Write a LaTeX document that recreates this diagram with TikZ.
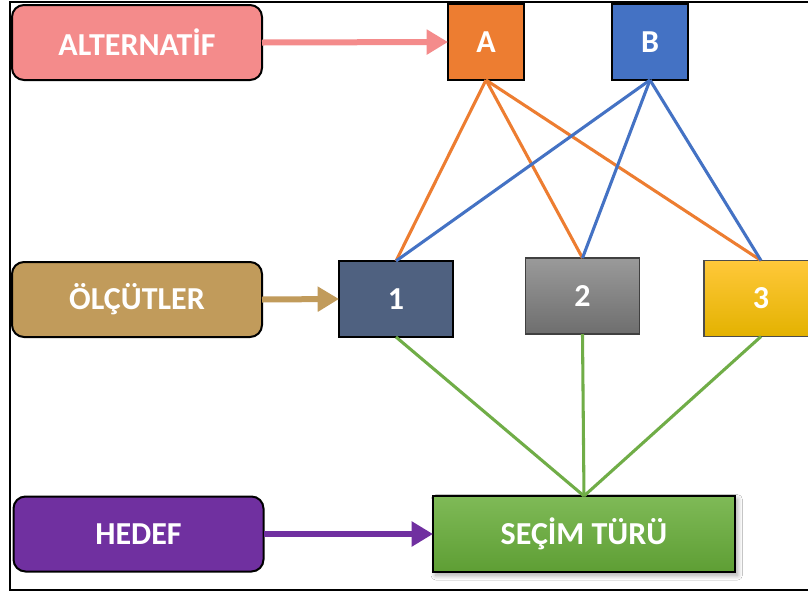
\documentclass[tikz,border=0pt]{standalone}
\usepackage{fontspec}
\setmainfont{Carlito}
\usetikzlibrary{arrows.meta,shadows.blur}

\definecolor{altpink}{HTML}{F48B8B}
\definecolor{olctan}{HTML}{C19B5B}
\definecolor{hedefpurple}{HTML}{7030A0}
\definecolor{aorange}{HTML}{ED7D31}
\definecolor{bblue}{HTML}{4472C4}
\definecolor{slate}{HTML}{4F6180}
\definecolor{greenline}{HTML}{70AD47}
\definecolor{greentop}{HTML}{7FBA57}
\definecolor{greenbot}{HTML}{5E9E34}
\definecolor{goldtop}{HTML}{FFC83A}
\definecolor{goldmid}{HTML}{FFC000}
\definecolor{goldbot}{HTML}{E3B200}
\definecolor{graytop}{HTML}{9A9A9A}
\definecolor{graybot}{HTML}{6E6E6E}

\tikzset{
  lbl/.style={font=\fontsize{24}{28}\selectfont\bfseries, text=white, inner sep=0pt, outer sep=0pt},
  roundbox/.style={lbl, draw=black, line width=1.5pt, rounded corners=9pt,
    minimum width=187.5pt, minimum height=56.25pt},
  sqbox/.style={lbl, draw=black, line width=1.5pt, minimum width=57pt, minimum height=57pt},
  critbox/.style={lbl, line width=1.5pt, minimum width=85.5pt, minimum height=57pt},
  bigarrow/.style={line width=4.5pt, -{Triangle[length=16pt,width=18pt]}},
  link/.style={line width=2.3pt},
}

\begin{document}
\begin{tikzpicture}[x=0.75pt,y=-0.75pt]
\useasboundingbox (0,0) rectangle (808,594);
\clip (0,0) rectangle (808,594);
\fill[white] (0,0) rectangle (808,594);

% outer frame
\draw[line width=1.5pt] (10,2) rectangle (840,590);

% level labels
\node[roundbox, fill=altpink]     (alt)   at (137,42.5)  {ALTERNATİF};
\node[roundbox, fill=olctan]      (olc)   at (137,299.5) {ÖLÇÜTLER};
\node[roundbox, fill=hedefpurple] (hedef) at (138.5,534) {HEDEF};

% alternatives
\node[sqbox, fill=aorange] (A) at (486,42) {A};
\node[sqbox, fill=bblue]   (B) at (650,42) {B};

% criteria
\node[critbox, draw=black, fill=slate] (c1) at (396,299) {1};
\node[critbox, draw=black!75, line width=1pt, top color=graytop, bottom color=graybot] (c2) at (582.5,296) {2};
\node[critbox, draw=black!70, line width=1pt, top color=goldtop, middle color=goldmid, bottom color=goldbot] (c3) at (761,298.5) {3};

% goal
\node[lbl, draw=black, line width=1.5pt, minimum width=226.5pt, minimum height=57pt,
  top color=greentop, bottom color=greenbot,
  blur shadow={shadow xshift=2pt, shadow yshift=-2.5pt, shadow blur steps=12, shadow blur radius=3.5pt, shadow opacity=35}]
  (sec) at (584,534) {SEÇİM TÜRÜ};

% level arrows
\draw[bigarrow, altpink]     (alt.east)   -- (A.west);
\draw[bigarrow, olctan]      (olc.east)   -- (c1.west);
\draw[bigarrow, hedefpurple] (hedef.east) -- (sec.west);

% alternative–criterion links
\foreach \c in {c1,c2,c3} {
  \draw[link, aorange] (A.south) -- (\c.north);
}
\foreach \c in {c1,c2,c3} {
  \draw[link, bblue] (B.south) -- (\c.north);
}

% criterion–goal links
\foreach \c in {c1,c2,c3} {
  \draw[link, greenline] (\c.south) -- (sec.north);
}
\end{tikzpicture}
\end{document}
